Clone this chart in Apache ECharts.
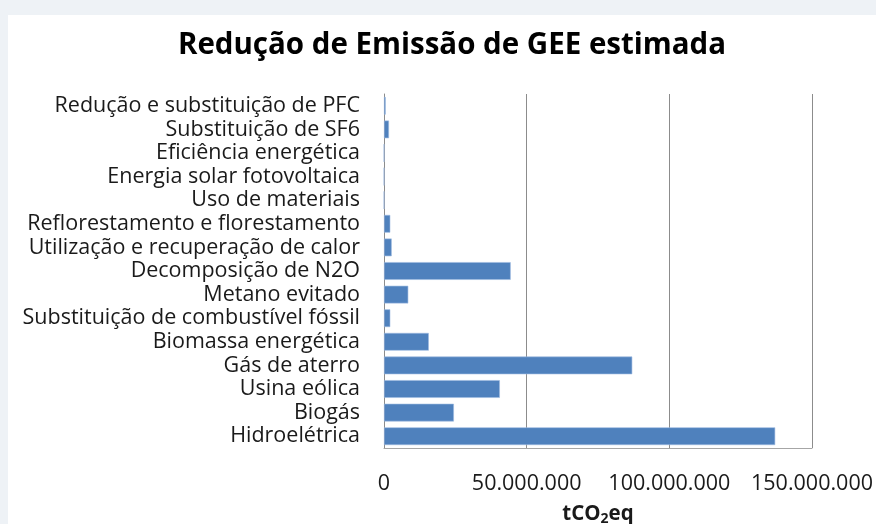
<!DOCTYPE html>
<html>
<head>
<meta charset="utf-8">
<script src="https://cdn.jsdelivr.net/npm/echarts@6/dist/echarts.min.js"></script>
<style>
  html, body { margin: 0; padding: 0; background: #eef2f6; }
  #chart { width: 876px; height: 524px; }
</style>
</head>
<body>
<div id="chart"></div>
<script>
// categorias de baixo para cima (eixo de categorias do ECharts começa embaixo)
const categorias = [
  'Hidroelétrica',
  'Biogás',
  'Usina eólica',
  'Gás de aterro',
  'Biomassa energética',
  'Substituição de combustível fóssil',
  'Metano evitado',
  'Decomposição de N2O',
  'Utilização e recuperação de calor',
  'Reflorestamento e florestamento',
  'Uso de materiais',
  'Energia solar fotovoltaica',
  'Eficiência energética',
  'Substituição de SF6',
  'Redução e substituição de PFC'
];
// tCO2eq estimado
const reducao = [
  137100000, 24500000, 40600000, 87000000, 15700000,
  2200000, 8500000, 44400000, 2700000, 2200000,
  0, 0, 0, 1750000, 600000
];
const ticksX = [0, 50000000, 100000000, 150000000];

function formatoBR(v) {
  return String(v).replace(/\B(?=(\d{3})+(?!\d))/g, '.');
}

const fonte = 'Open Sans';
const chart = echarts.init(document.getElementById('chart'));
chart.setOption({
  backgroundColor: '#eef2f6',
  animation: false,
  graphic: [{
    type: 'rect',
    shape: { x: 8, y: 15, width: 868, height: 509 },
    style: { fill: '#ffffff' },
    z: -10
  }],
  title: {
    text: 'Redução de Emissão de GEE estimada',
    left: 447,
    textAlign: 'center',
    top: 26,
    textStyle: { fontFamily: fonte, fontSize: 29.5, fontWeight: 'bold', color: '#000' }
  },
  grid: { left: 384, right: 64, top: 94, bottom: 76, containLabel: false, outerBoundsMode: 'none' },
  xAxis: {
    type: 'value',
    min: ticksX[0],
    max: ticksX[ticksX.length - 1],
    interval: 50000000,
    axisLine: { show: true, lineStyle: { color: '#a6a6a6', width: 1 } },
    axisTick: { show: false },
    splitLine: { show: true, lineStyle: { color: '#8c8c8c', width: 1 } },
    axisLabel: {
      margin: 25,
      fontFamily: fonte,
      fontSize: 21.5,
      color: '#1a1a1a',
      formatter: formatoBR
    },
    name: '{a|tCO}{b|2}{a|eq}',
    nameLocation: 'middle',
    nameGap: 54,
    nameTextStyle: {
      rich: {
        a: { fontFamily: fonte, fontSize: 20.5, fontWeight: 'bold', color: '#1a1a1a' },
        b: { fontFamily: fonte, fontSize: 14, fontWeight: 'bold', color: '#1a1a1a', padding: [10, 0, 0, 0] }
      }
    }
  },
  yAxis: {
    type: 'category',
    data: categorias,
    axisLine: { show: true, lineStyle: { color: '#8c8c8c', width: 1 } },
    axisTick: { show: false },
    axisLabel: {
      interval: 0,
      margin: 24,
      fontFamily: fonte,
      fontSize: 21.5,
      color: '#1a1a1a'
    }
  },
  series: [{
    type: 'bar',
    data: reducao,
    barCategoryGap: '25%',
    itemStyle: { color: '#4f81bd', borderColor: '#9dbbe0', borderWidth: 0.6 }
  }]
});
</script>
</body>
</html>
